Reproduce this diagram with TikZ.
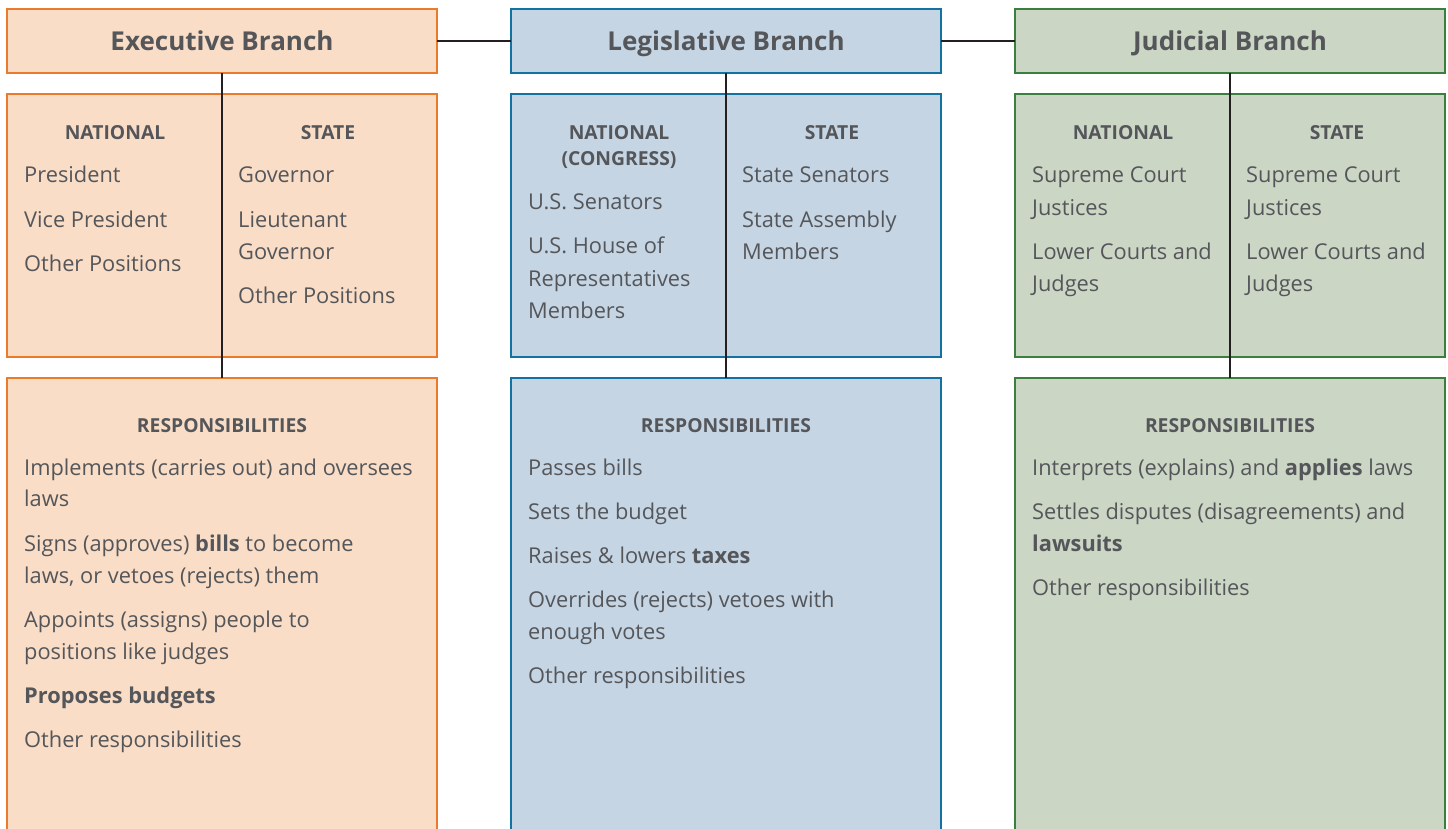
\documentclass[tikz,border=0pt]{standalone}
\usepackage{fontspec}
\setmainfont{Open Sans}
\definecolor{tgray}{HTML}{54565A}
\definecolor{ofill}{HTML}{F9DDC6}
\definecolor{oline}{HTML}{EC7A2D}
\definecolor{bfill}{HTML}{C5D5E4}
\definecolor{bline}{HTML}{1272A2}
\definecolor{gfill}{HTML}{CBD6C5}
\definecolor{gline}{HTML}{3B7F3E}
\definecolor{cline}{HTML}{231F20}
\tikzset{
  box/.style={draw, line width=2.4pt, minimum width=430pt, inner sep=0pt, outer sep=0pt},
  exbox/.style={box, fill=ofill, draw=oline},
  lgbox/.style={box, fill=bfill, draw=bline},
  jdbox/.style={box, fill=gfill, draw=gline},
  titlebox/.style={minimum height=64pt, text height=18.6pt, text depth=0pt, font=\bfseries\fontsize{26}{30}\selectfont, text=tgray},
  midbox/.style={minimum height=263pt},
  botbox/.style={minimum height=462pt},
  conn/.style={draw=cline, line width=2pt},
  txt/.style={anchor=base west, inner sep=0pt, font=\fontsize{21.8}{26}\selectfont, text=tgray},
  hdr/.style={anchor=base, inner sep=0pt, font=\bfseries\fontsize{19.3}{22}\selectfont, text=tgray},
}
\begin{document}
\begin{tikzpicture}[x=1pt,y=-1pt]
\useasboundingbox (0,0) rectangle (1448,829);
% boxes
\node[exbox,titlebox] (et) at (222,41) {Executive Branch};
\node[lgbox,titlebox] (lt) at (726,41) {Legislative Branch};
\node[jdbox,titlebox] (jt) at (1230,41) {Judicial Branch};
\node[exbox,midbox] (em) at (222,225.5) {};
\node[lgbox,midbox] (lm) at (726,225.5) {};
\node[jdbox,midbox] (jm) at (1230,225.5) {};
\node[exbox,botbox] (eb) at (222,609) {};
\node[lgbox,botbox] (lb) at (726,609) {};
\node[jdbox,botbox] (jb) at (1230,609) {};
% connectors
\draw[conn] (et.east) -- (lt.west);
\draw[conn] (lt.east) -- (jt.west);
\draw[conn] (et.south) -- (eb.north);
\draw[conn] (lt.south) -- (lb.north);
\draw[conn] (jt.south) -- (jb.north);
% executive
\node[hdr] (eh1) at (115,140) {NATIONAL};
\node[hdr] (eh2) at (328,140) {STATE};
\node[txt] (en1) at (24,183) {President};
\node[txt] (en2) at (24,227) {Vice President};
\node[txt] (en3) at (24,271) {Other Positions};
\node[txt] (es1) at (238,183) {Governor};
\node[txt] (es2) at (238,227) {Lieutenant};
\node[txt] (es3) at (238,259) {Governor};
\node[txt] (es4) at (238,303) {Other Positions};
\node[hdr] (er) at (222,432) {RESPONSIBILITIES};
\node[txt] (er1) at (24,475) {Implements (carries out) and oversees};
\node[txt] (er2) at (24,506) {laws};
\node[txt] (er3) at (24,551) {Signs (approves) \textbf{bills} to become};
\node[txt] (er4) at (24,583) {laws, or vetoes (rejects) them};
\node[txt] (er5) at (24,627) {Appoints (assigns) people to};
\node[txt] (er6) at (24,659) {positions like judges};
\node[txt] (er7) at (24,703) {\textbf{Proposes budgets}};
\node[txt] (er8) at (24,747) {Other responsibilities};
% legislative
\node[hdr] (lh1) at (619,140) {NATIONAL};
\node[hdr] (lh1b) at (619,166) {(CONGRESS)};
\node[hdr] (lh2) at (832,140) {STATE};
\node[txt] (ln1) at (528,210) {U.S. Senators};
\node[txt] (ln2) at (528,254) {U.S. House of};
\node[txt] (ln3) at (528,286) {Representatives};
\node[txt] (ln4) at (528,318) {Members};
\node[txt] (ls1) at (742,183) {State Senators};
\node[txt] (ls2) at (742,227) {State Assembly};
\node[txt] (ls3) at (742,259) {Members};
\node[hdr] (lr) at (726,432) {RESPONSIBILITIES};
\node[txt] (lr1) at (528,475) {Passes bills};
\node[txt] (lr2) at (528,519) {Sets the budget};
\node[txt] (lr3) at (528,563) {Raises \& lowers \textbf{taxes}};
\node[txt] (lr4) at (528,607) {Overrides (rejects) vetoes with};
\node[txt] (lr5) at (528,639) {enough votes};
\node[txt] (lr6) at (528,683) {Other responsibilities};
% judicial
\node[hdr] (jh1) at (1123,140) {NATIONAL};
\node[hdr] (jh2) at (1337,140) {STATE};
\node[txt] (jn1) at (1032,183) {Supreme Court};
\node[txt] (jn2) at (1032,215) {Justices};
\node[txt] (jn3) at (1032,259) {Lower Courts and};
\node[txt] (jn4) at (1032,291) {Judges};
\node[txt] (js1) at (1246,183) {Supreme Court};
\node[txt] (js2) at (1246,215) {Justices};
\node[txt] (js3) at (1246,259) {Lower Courts and};
\node[txt] (js4) at (1246,291) {Judges};
\node[hdr] (jr) at (1230,432) {RESPONSIBILITIES};
\node[txt] (jr1) at (1032,475) {Interprets (explains) and \textbf{applies} laws};
\node[txt] (jr2) at (1032,519) {Settles disputes (disagreements) and};
\node[txt] (jr3) at (1032,551) {\textbf{lawsuits}};
\node[txt] (jr4) at (1032,595) {Other responsibilities};
\end{tikzpicture}
\end{document}
